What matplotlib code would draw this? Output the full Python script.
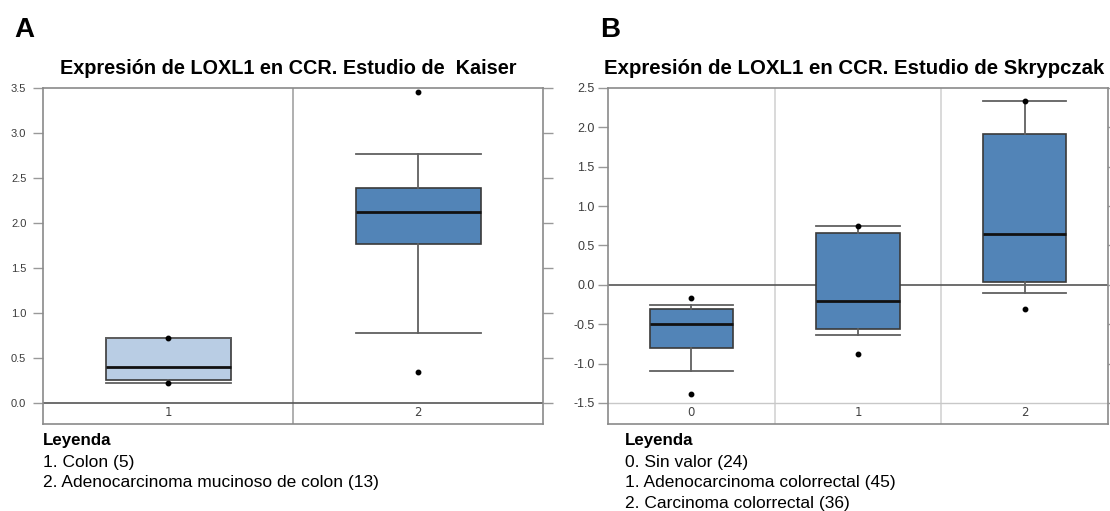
import matplotlib
matplotlib.use("Agg")
import matplotlib.pyplot as plt
import matplotlib.transforms as mtransforms

# Panel A: Kaiser study
kaiser_labels = ["1", "2"]
kaiser_whislo = [0.22, 0.78]
kaiser_q1 = [0.255, 1.77]
kaiser_med = [0.40, 2.12]
kaiser_q3 = [0.72, 2.39]
kaiser_whishi = [0.72, 2.77]
kaiser_fliers = [[0.72, 0.22], [3.46, 0.34]]
kaiser_colors = ["#b9cde4", "#5284b7"]
kaiser_legend = ["1. Colon (5)", "2. Adenocarcinoma mucinoso de colon (13)"]

# Panel B: Skrypczak study
skry_labels = ["0", "1", "2"]
skry_whislo = [-1.10, -0.64, -0.10]
skry_q1 = [-0.80, -0.56, 0.04]
skry_med = [-0.50, -0.20, 0.64]
skry_q3 = [-0.305, 0.66, 1.92]
skry_whishi = [-0.26, 0.75, 2.33]
skry_fliers = [[-0.17, -1.38], [0.75, -0.88], [2.33, -0.31]]
skry_colors = ["#5284b7", "#5284b7", "#5284b7"]
skry_legend = ["0. Sin valor (24)", "1. Adenocarcinoma colorrectal (45)",
               "2. Carcinoma colorrectal (36)"]

plt.rcParams['font.family'] = ['Liberation Sans', 'DejaVu Sans']

W, H = 1110, 511
fig = plt.figure(figsize=(W / 100, H / 100), dpi=100)


def px_axes(x0, y0, x1, y1):
    return fig.add_axes([x0 / W, 1 - y1 / H, (x1 - x0) / W, (y1 - y0) / H])


def draw_panel(ax, labels, whislo, q1, med, q3, whishi, fliers, colors,
               ylim, yticks, divider_color, label_size, label_pad, grid_at=None):
    stats = []
    for i in range(len(labels)):
        stats.append({'whislo': whislo[i], 'q1': q1[i], 'med': med[i],
                      'q3': q3[i], 'whishi': whishi[i], 'fliers': fliers[i]})
    pos = list(range(len(labels)))
    bp = ax.bxp(stats, positions=pos, widths=0.5, capwidths=0.5,
                patch_artist=True, manage_ticks=False,
                boxprops=dict(edgecolor='#3a3a3a', linewidth=1.2),
                medianprops=dict(color='#111111', linewidth=2.0),
                whiskerprops=dict(color='#606060', linewidth=1.3),
                capprops=dict(color='#606060', linewidth=1.3),
                flierprops=dict(marker='o', markerfacecolor='black',
                                markeredgecolor='black', markersize=3.2))
    for patch, c in zip(bp['boxes'], colors):
        patch.set_facecolor(c)

    ax.set_xlim(-0.5, len(labels) - 0.5)
    ax.set_ylim(*ylim)
    for k in range(1, len(labels)):
        ax.axvline(k - 0.5, color=divider_color, linewidth=1.1, zorder=0)
    if grid_at is not None:
        ax.axhline(grid_at, color='#c8c8c8', linewidth=1.0, zorder=0)
    ax.axhline(0, color='#555555', linewidth=1.2, zorder=1)

    ax.set_yticks(yticks)
    ax.set_yticklabels([f"{v:.1f}" for v in yticks])
    ax.tick_params(axis='y', direction='out', length=7, width=1,
                   color='#999999', labelsize=label_size, labelcolor='#3c3c3c',
                   right=True, pad=label_pad)
    ax.set_xticks([])
    for s in ax.spines.values():
        s.set_color('#8a8a8a')
        s.set_linewidth(1.2)

    # category numbers sit inside the plot, below the zero line
    trans = mtransforms.blended_transform_factory(ax.transData, ax.transAxes)
    for i, lab in enumerate(labels):
        ax.text(i, 0.016, lab, transform=trans, ha='center', va='bottom',
                fontsize=8.5, color='#444444', family='DejaVu Sans')


axA = px_axes(43, 88, 543, 424)
draw_panel(axA, kaiser_labels, kaiser_whislo, kaiser_q1, kaiser_med,
           kaiser_q3, kaiser_whishi, kaiser_fliers, kaiser_colors,
           (-0.233, 3.5), [0.0, 0.5, 1.0, 1.5, 2.0, 2.5, 3.0, 3.5], '#9a9a9a',
           8, 5)

axB = px_axes(608, 88, 1108, 424)
draw_panel(axB, skry_labels, skry_whislo, skry_q1, skry_med,
           skry_q3, skry_whishi, skry_fliers, skry_colors,
           (-1.767, 2.5), [-1.5, -1.0, -0.5, 0.0, 0.5, 1.0, 1.5, 2.0, 2.5],
           '#cfcfcf', 9, 2.5, grid_at=-1.5)

# panel letters and titles
fig.text(14 / W, 1 - 30 / H, "A", fontsize=20, fontweight='bold', va='center')
fig.text(600 / W, 1 - 30 / H, "B", fontsize=20, fontweight='bold', va='center')
fig.text(288 / W, 1 - 69 / H, "Expresión de LOXL1 en CCR. Estudio de  Kaiser",
         fontsize=14.3, fontweight='bold', ha='center', va='center')
fig.text(854 / W, 1 - 69 / H, "Expresión de LOXL1 en CCR. Estudio de Skrypczak",
         fontsize=14.7, fontweight='bold', ha='center', va='center')


# legends under each panel
def legend_block(x, lines):
    fig.text(x / W, 1 - 440 / H, "Leyenda", fontsize=12.2, fontweight='bold',
             va='center')
    for j, line in enumerate(lines):
        fig.text(x / W, 1 - (462 + 20.5 * j) / H, line, fontsize=12.5,
                 va='center')


legend_block(43, kaiser_legend)
legend_block(625, skry_legend)

fig.savefig("out.png", dpi=100)
